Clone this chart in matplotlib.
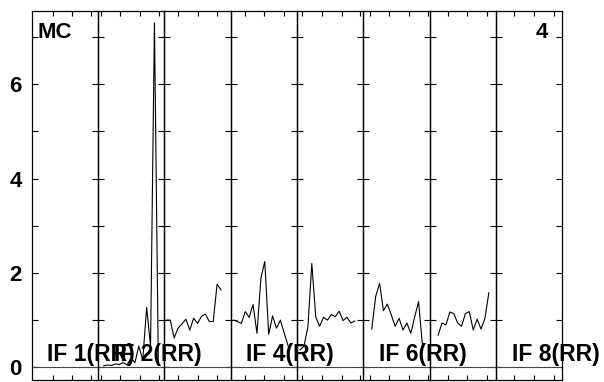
import matplotlib
matplotlib.use("Agg")
import matplotlib.pyplot as plt
import numpy as np

plt.rcParams['font.family'] = ['Liberation Sans', 'DejaVu Sans']
plt.rcParams['font.weight'] = 'bold'

# --- data: amplitude per channel, one list per IF (None = no data) ---
if_names = ['IF 1(RR)', 'IF 2(RR)', 'IF 3(RR)', 'IF 4(RR)',
            'IF 5(RR)', 'IF 6(RR)', 'IF 7(RR)', 'IF 8(RR)']
show_label = [True, True, False, True, False, True, False, True]

first_chan = [None, 1.45, 0.5, 0.72, 0.77, 2.13, 2.13, None]
amp_if2 = [0.03, 0.05, 0.04, 0.07, 0.06, 0.10, 0.05, 0.20, 0.10, 0.45, 0.15, 1.27, 0.45, 7.30, 0.05]
amp_if3 = [1.00, 1.00, 0.62, 0.83, 0.92, 1.02, 0.79, 1.04, 0.93, 1.08, 1.13, 0.97, 0.97, 1.76, 1.64]
amp_if4 = [1.00, 0.97, 0.93, 1.18, 1.06, 1.33, 0.72, 1.89, 2.24, 0.70, 1.09, 0.83, 1.00, 0.72, 0.45]
amp_if5 = [0.37, 0.45, 0.86, 2.20, 1.07, 0.87, 1.06, 1.00, 1.12, 1.07, 1.19, 0.99, 1.06, 0.94, 0.98]
amp_if6 = [0.81, 1.50, 1.78, 1.20, 1.34, 1.11, 0.87, 1.04, 0.79, 0.94, 0.72, 1.07, 1.39, 0.45]
amp_if7 = [0.68, 0.94, 0.90, 1.17, 1.14, 0.94, 0.87, 1.14, 1.18, 0.79, 1.02, 0.81, 1.04, 1.58]
amps = [None, amp_if2, amp_if3, amp_if4, amp_if5, amp_if6, amp_if7, None]

# frequency tick marks (in channels) for each IF
xticks_if = [[5.54, 10.26, 15.13],
             [0.64, 5.59, 10.64, 15.59],
             [3.51, 8.51, 13.51],
             [3.54, 8.41, 13.54],
             [1.23, 6.41, 11.54, 16.15],
             [1.62, 6.67, 11.62, 16.54],
             [4.54, 9.41, 14.54],
             [4.69, 9.82, 14.95]]

yticks = [0, 1, 2, 3, 4, 5, 6, 7]
ylabels = ['0', '', '2', '', '4', '', '6', '']

W, H = 604, 382
fig = plt.figure(figsize=(W / 100, H / 100), dpi=100)

left = 31.7 / W
pw = 66.35 / W
bottom = 1 - 379.5 / H
height = (379.5 - 10.7) / H
nchan = 17

for i in range(8):
    ax = fig.add_axes([left + i * pw, bottom, pw, height])
    ax.patch.set_visible(False)
    ax.set_xlim(0, nchan)
    ax.set_ylim(-0.258, 7.555)
    ax.axhline(0, color='#444444', lw=0.8)
    if amps[i] is not None:
        x = first_chan[i] + np.arange(len(amps[i]))
        ax.plot(x, amps[i], color='black', lw=0.8)
    ax.set_yticks(yticks)
    ax.set_xticks(xticks_if[i])
    ax.tick_params(axis='y', direction='in', left=True, right=True,
                   length=4.3, width=0.8, labelleft=(i == 0), labelsize=16, pad=7)
    ax.tick_params(axis='x', direction='in', top=True, bottom=True,
                   length=3.6, width=0.8, labelbottom=False)
    if i == 0:
        ax.set_yticklabels(ylabels, fontweight='bold')
    for sp in ax.spines.values():
        sp.set_linewidth(0.9)
    if show_label[i]:
        ax.text(3.97, 0.14, if_names[i], fontsize=16.5, fontweight='bold',
                va='baseline', ha='left', clip_on=False)
    if i == 0:
        ax.text(1.36, 6.98, 'MC', fontsize=16, fontweight='bold', va='baseline')
    if i == 7:
        ax.text(13.3, 6.98, '4', fontsize=16, fontweight='bold', va='baseline', ha='right')

fig.savefig('out.png', dpi=100)
